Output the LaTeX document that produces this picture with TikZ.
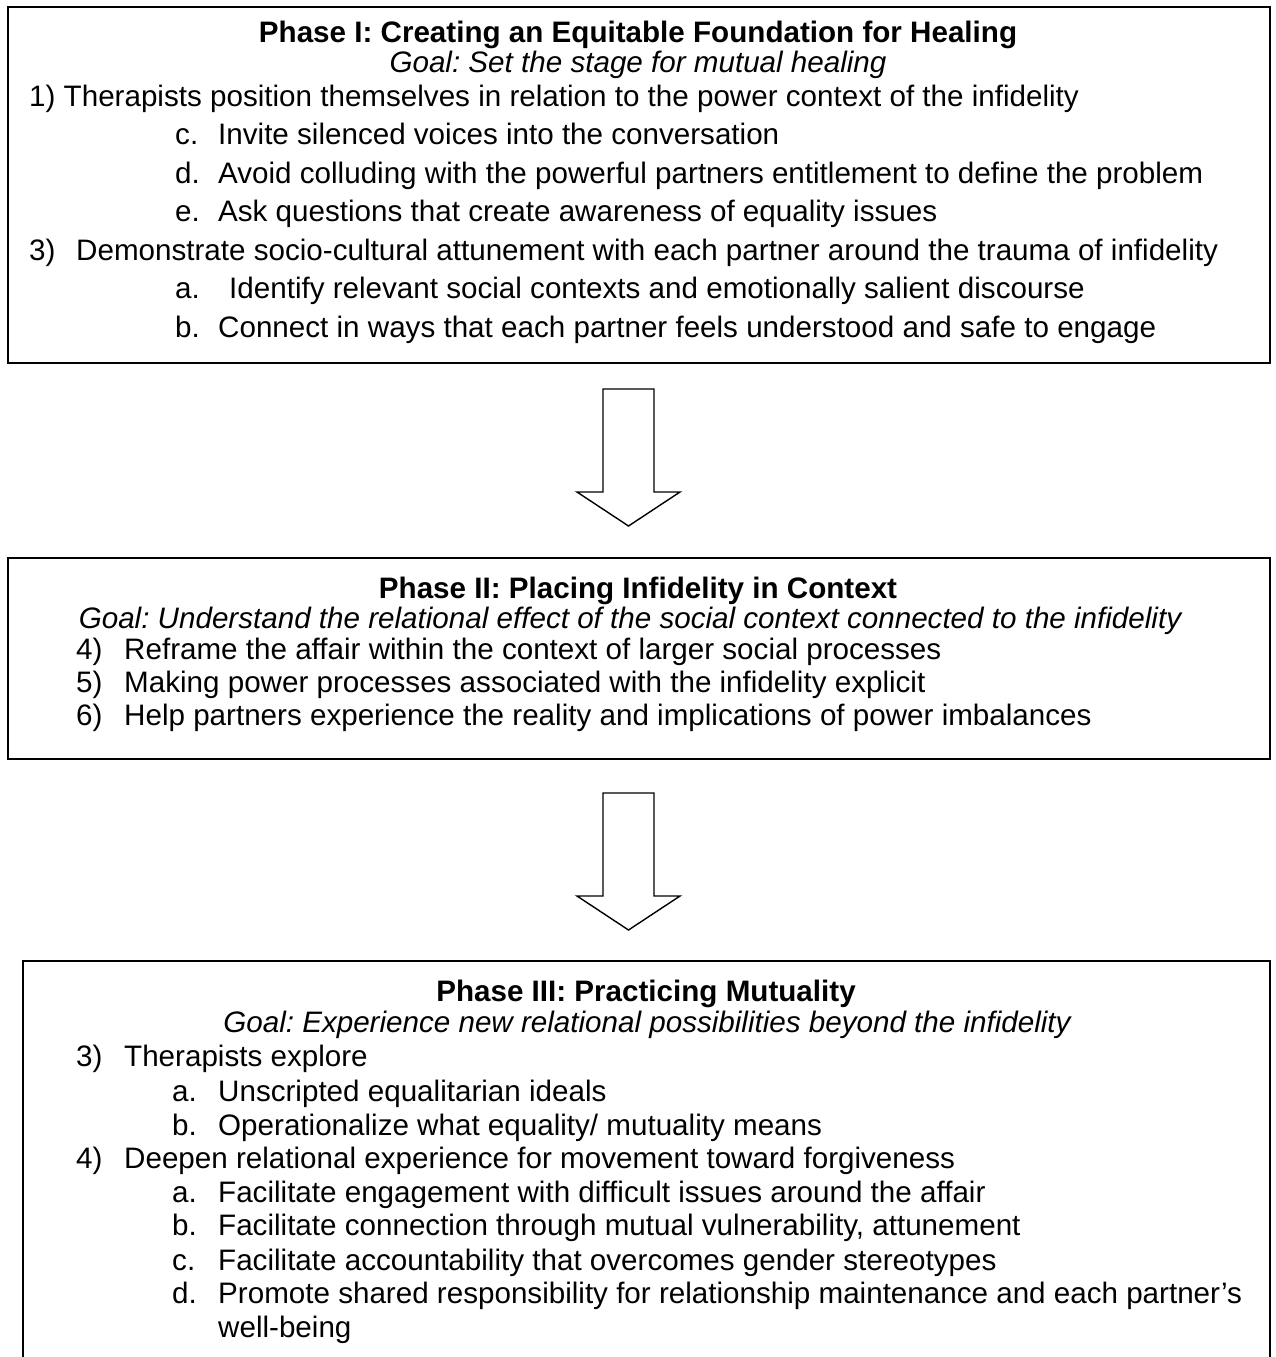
\documentclass[tikz,border=0pt]{standalone}
\usepackage{fontspec}
\setmainfont{Liberation Sans}
\begin{document}
\frenchspacing
\begin{tikzpicture}[x=1pt,y=-1pt,
  phasebox/.style={draw, line width=2.2pt, inner sep=0pt, anchor=north west},
  blockarrow/.style={draw, line width=1.4pt, line join=miter, fill=white},
  txt/.style={anchor=base west, inner sep=0pt, font=\fontsize{29.6}{34}\selectfont},
  ttl/.style={anchor=base, inner sep=0pt, font=\fontsize{29.6}{34}\selectfont\bfseries},
  goal/.style={anchor=base, inner sep=0pt, font=\fontsize{29.6}{34}\selectfont\itshape}]
\clip (0,0) rectangle (1276,1357);
\fill[white] (0,0) rectangle (1276,1357);

% ---------- Phase I ----------
\node[phasebox, minimum width=1262pt, minimum height=356pt] (p1) at (7,6) {};
\node[ttl]  (p1t) at (638,42) {Phase I: Creating an Equitable Foundation for Healing};
\node[goal] (p1g) at (638,72) {Goal: Set the stage for mutual healing};
\node[txt] (p1l1) at (29,106) {1) Therapists position themselves in relation to the power context of the infidelity};
\node[txt] (p1c)  at (175,144) {c.};
\node[txt] (p1ct) at (218,144) {Invite silenced voices into the conversation};
\node[txt] (p1d)  at (175,183) {d.};
\node[txt] (p1dt) at (218,183) {Avoid colluding with the powerful partners entitlement to define the problem};
\node[txt] (p1e)  at (175,221) {e.};
\node[txt] (p1et) at (218,221) {Ask questions that create awareness of equality issues};
\node[txt] (p1l3) at (29,260) {3)};
\node[txt] (p1l3t) at (76,260) {Demonstrate socio-cultural attunement with each partner around the trauma of infidelity};
\node[txt] (p1a)  at (175,298) {a.};
\node[txt] (p1at) at (229,298) {Identify relevant social contexts and emotionally salient discourse};
\node[txt] (p1b)  at (175,337) {b.};
\node[txt] (p1bt) at (218,337) {Connect in ways that each partner feels understood and safe to engage};

% ---------- Arrow 1 ----------
\draw[blockarrow] (603,389) -- (654,389) -- (654,492) -- (680,492) -- (628.5,526)
  -- (577,492) -- (603,492) -- cycle;

% ---------- Phase II ----------
\node[phasebox, minimum width=1262pt, minimum height=201pt] (p2) at (7,557) {};
\node[ttl]  (p2t) at (638,598) {Phase II: Placing Infidelity in Context};
\node[goal] (p2g) at (630,628) {Goal: Understand the relational effect of the social context connected to the infidelity};
\node[txt] (p2l4)  at (76,659) {4)};
\node[txt] (p2l4t) at (124,659) {Reframe the affair within the context of larger social processes};
\node[txt] (p2l5)  at (76,692) {5)};
\node[txt] (p2l5t) at (124,692) {Making power processes associated with the infidelity explicit};
\node[txt] (p2l6)  at (76,725) {6)};
\node[txt] (p2l6t) at (124,725) {Help partners experience the reality and implications of power imbalances};

% ---------- Arrow 2 ----------
\draw[blockarrow] (603,793) -- (654,793) -- (654,896) -- (680,896) -- (628.5,930)
  -- (577,896) -- (603,896) -- cycle;

% ---------- Phase III ----------
\node[phasebox, minimum width=1247pt, minimum height=430pt] (p3) at (22,960) {};
\node[ttl]  (p3t) at (646,1001) {Phase III: Practicing Mutuality};
\node[goal] (p3g) at (647,1032) {Goal: Experience new relational possibilities beyond the infidelity};
\node[txt] (p3l3)  at (76,1066) {3)};
\node[txt] (p3l3t) at (124,1066) {Therapists explore};
\node[txt] (p3a)   at (172,1101) {a.};
\node[txt] (p3at)  at (218,1101) {Unscripted equalitarian ideals};
\node[txt] (p3b)   at (172,1135) {b.};
\node[txt] (p3bt)  at (218,1135) {Operationalize what equality/ mutuality means};
\node[txt] (p3l4)  at (76,1168) {4)};
\node[txt] (p3l4t) at (124,1168) {Deepen relational experience for movement toward forgiveness};
\node[txt] (p3a2)  at (172,1202) {a.};
\node[txt] (p3a2t) at (218,1202) {Facilitate engagement with difficult issues around the affair};
\node[txt] (p3b2)  at (172,1235) {b.};
\node[txt] (p3b2t) at (218,1235) {Facilitate connection through mutual vulnerability, attunement};
\node[txt] (p3c2)  at (172,1270) {c.};
\node[txt] (p3c2t) at (218,1270) {Facilitate accountability that overcomes gender stereotypes};
\node[txt] (p3d2)  at (172,1303) {d.};
\node[txt] (p3d2t) at (218,1303) {Promote shared responsibility for relationship maintenance and each partner’s};
\node[txt] (p3d2u) at (218,1337) {well-being};
\end{tikzpicture}
\end{document}
